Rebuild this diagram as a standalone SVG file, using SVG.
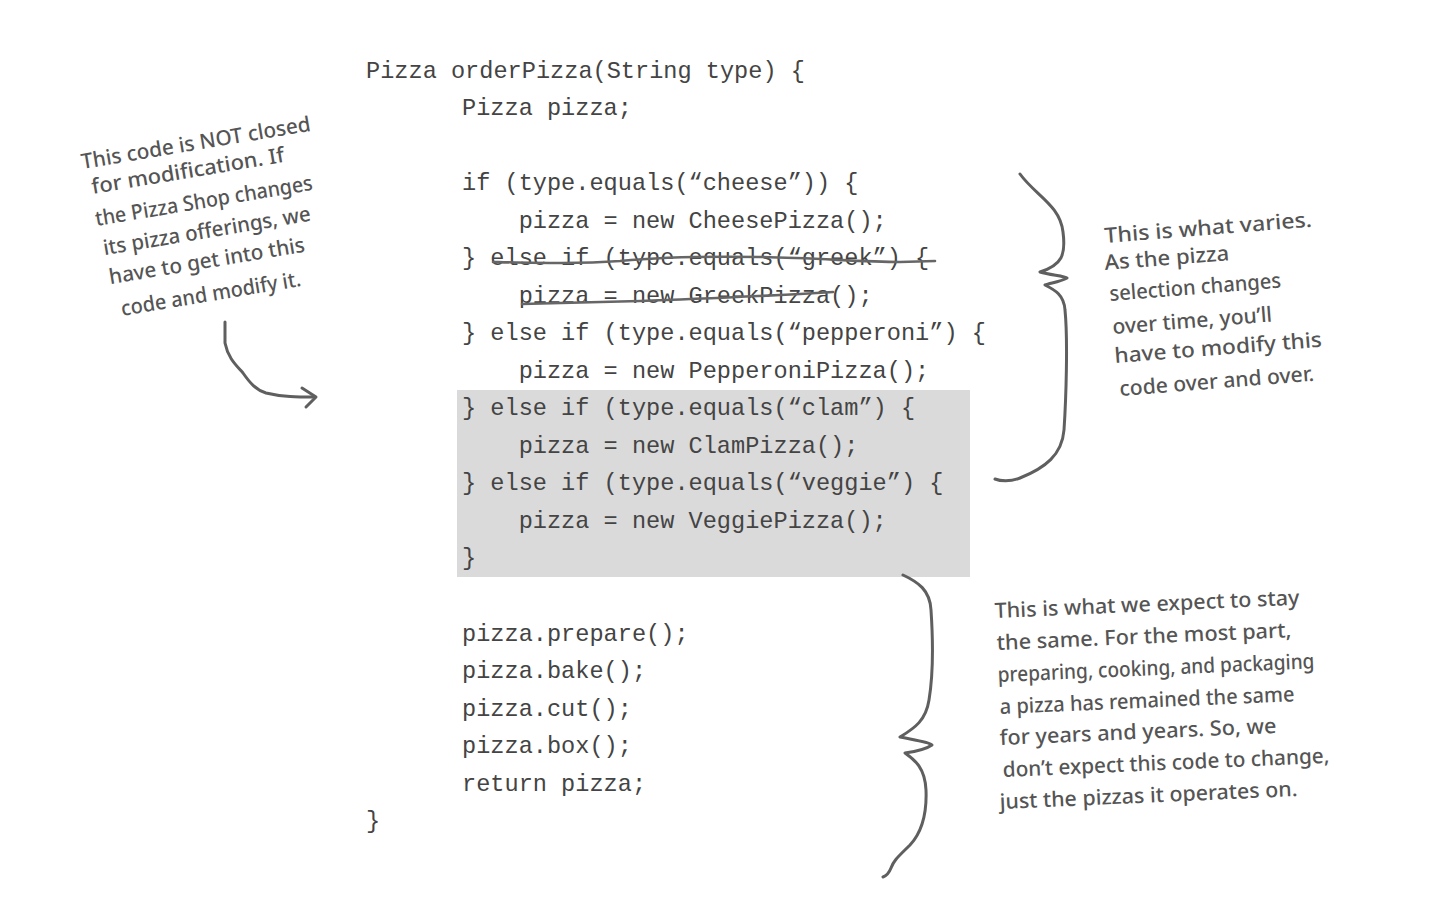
<svg xmlns="http://www.w3.org/2000/svg" width="1444" height="922" viewBox="0 0 1444 922">
<style>
.code{font-family:"Liberation Mono","Courier New",monospace;font-size:23.6px;fill:#444;white-space:pre}
.hand{font-family:"Noto Sans","DejaVu Sans",sans-serif;font-size:21px;font-weight:500;fill:#555}
.stroke{fill:none;stroke:#5f5f5f;stroke-width:3;stroke-linecap:round;stroke-linejoin:round}
.strike{fill:none;stroke:#666;stroke-width:2.6;stroke-linecap:round}
</style>
<rect x="0" y="0" width="1444" height="922" fill="#fff"/>

<g id="highlight">
<rect x="457" y="390" width="513" height="187" fill="#dadada"/>
</g>

<g id="code">
<text class="code" x="366" y="78">Pizza orderPizza(String type) {</text>
<text class="code" x="462" y="115">Pizza pizza;</text>
<text class="code" x="462" y="190">if (type.equals(“cheese”)) {</text>
<text class="code" x="462" y="228">    pizza = new CheesePizza();</text>
<text class="code" x="462" y="265">} else if (type.equals(“greek”) {</text>
<text class="code" x="462" y="303">    pizza = new GreekPizza();</text>
<text class="code" x="462" y="340">} else if (type.equals(“pepperoni”) {</text>
<text class="code" x="462" y="378">    pizza = new PepperoniPizza();</text>
<text class="code" x="462" y="415">} else if (type.equals(“clam”) {</text>
<text class="code" x="462" y="453">    pizza = new ClamPizza();</text>
<text class="code" x="462" y="490">} else if (type.equals(“veggie”) {</text>
<text class="code" x="462" y="528">    pizza = new VeggiePizza();</text>
<text class="code" x="462" y="565">}</text>
<text class="code" x="462" y="641">pizza.prepare();</text>
<text class="code" x="462" y="678">pizza.bake();</text>
<text class="code" x="462" y="716">pizza.cut();</text>
<text class="code" x="462" y="753">pizza.box();</text>
<text class="code" x="462" y="791">return pizza;</text>
<text class="code" x="366" y="828">}</text>
</g>

<g id="strikeouts">
<path class="strike" d="M493,262 C540,263 580,264 620,261 C660,257 700,256 760,257 C820,258 860,262 900,262 L935,261"/>
<path class="strike" d="M522,304 C560,303 600,302 640,301 C700,299 760,296 800,294 L833,292"/>
</g>

<g id="note-left">
<text class="hand" x="196" y="150" text-anchor="middle" textLength="232" lengthAdjust="spacingAndGlyphs" transform="rotate(-9.5 196 144)">This code is NOT closed</text>
<text class="hand" x="188" y="178" text-anchor="middle" textLength="195" lengthAdjust="spacingAndGlyphs" transform="rotate(-9.5 188 172)">for modification.  If</text>
<text class="hand" x="204" y="208" text-anchor="middle" textLength="220" lengthAdjust="spacingAndGlyphs" transform="rotate(-9.5 204 202)">the Pizza Shop changes</text>
<text class="hand" x="207" y="238" text-anchor="middle" textLength="210" lengthAdjust="spacingAndGlyphs" transform="rotate(-9.5 207 232)">its pizza offerings, we</text>
<text class="hand" x="207" y="268" text-anchor="middle" textLength="198" lengthAdjust="spacingAndGlyphs" transform="rotate(-9.5 207 262)">have to get into this</text>
<text class="hand" x="211" y="301" text-anchor="middle" textLength="182" lengthAdjust="spacingAndGlyphs" transform="rotate(-9.5 211 295)">code and modify it.</text>
</g>

<g id="note-varies">
<text class="hand" x="1105" y="243" textLength="208" lengthAdjust="spacingAndGlyphs" transform="rotate(-4.5 1105 243)">This is what varies.</text>
<text class="hand" x="1105" y="270" textLength="125" lengthAdjust="spacingAndGlyphs" transform="rotate(-4.5 1105 270)">As the pizza</text>
<text class="hand" x="1110" y="301" textLength="172" lengthAdjust="spacingAndGlyphs" transform="rotate(-4.5 1110 301)">selection changes</text>
<text class="hand" x="1113" y="334" textLength="160" lengthAdjust="spacingAndGlyphs" transform="rotate(-4.5 1113 334)">over time, you’ll</text>
<text class="hand" x="1115" y="363" textLength="208" lengthAdjust="spacingAndGlyphs" transform="rotate(-4.5 1115 363)">have to modify this</text>
<text class="hand" x="1120" y="396" textLength="195" lengthAdjust="spacingAndGlyphs" transform="rotate(-4.5 1120 396)">code over and over.</text>
</g>

<g id="note-same">
<text class="hand" x="995" y="618" textLength="305" lengthAdjust="spacingAndGlyphs" transform="rotate(-2.5 995 618)">This is what we expect to stay</text>
<text class="hand" x="997" y="650" textLength="295" lengthAdjust="spacingAndGlyphs" transform="rotate(-2.5 997 650)">the same.  For the most part,</text>
<text class="hand" x="998" y="682" textLength="317" lengthAdjust="spacingAndGlyphs" transform="rotate(-2.5 998 682)">preparing, cooking, and packaging</text>
<text class="hand" x="1000" y="714" textLength="295" lengthAdjust="spacingAndGlyphs" transform="rotate(-2.5 1000 714)">a pizza has remained the same</text>
<text class="hand" x="1000" y="745" textLength="277" lengthAdjust="spacingAndGlyphs" transform="rotate(-2.5 1000 745)">for years and years.  So, we</text>
<text class="hand" x="1003" y="777" textLength="327" lengthAdjust="spacingAndGlyphs" transform="rotate(-2.5 1003 777)">don’t expect this code to change,</text>
<text class="hand" x="1000" y="809" textLength="298" lengthAdjust="spacingAndGlyphs" transform="rotate(-2.5 1000 809)">just the pizzas it operates on.</text>
</g>

<g id="connectors">
<path class="stroke" d="M225,322 L225,343 C228,358 236,365 243,373 C250,383 256,390 266,393 C282,397 298,397 315,397"/>
<path class="stroke" d="M302,388 L316,397 L306,407"/>
<path class="stroke" d="M1020,174 C1035,195 1060,205 1063,232 C1066,255 1062,265 1040,272 C1050,275 1065,276 1067,278 C1060,282 1050,283 1045,285 C1055,290 1064,295 1065,310 C1068,340 1066,400 1064,430 C1062,455 1045,468 1020,478 C1010,482 1000,481 995,479"/>
<path class="stroke" d="M903,575 C918,582 930,590 931,610 C933,640 934,670 929,700 C926,720 915,728 900,737 C915,740 930,742 932,745 C925,750 912,752 905,753 C915,760 925,768 926,790 C927,815 922,832 910,845 C898,857 894,860 891,868 C889,873 886,876 883,877"/>
</g>
</svg>
